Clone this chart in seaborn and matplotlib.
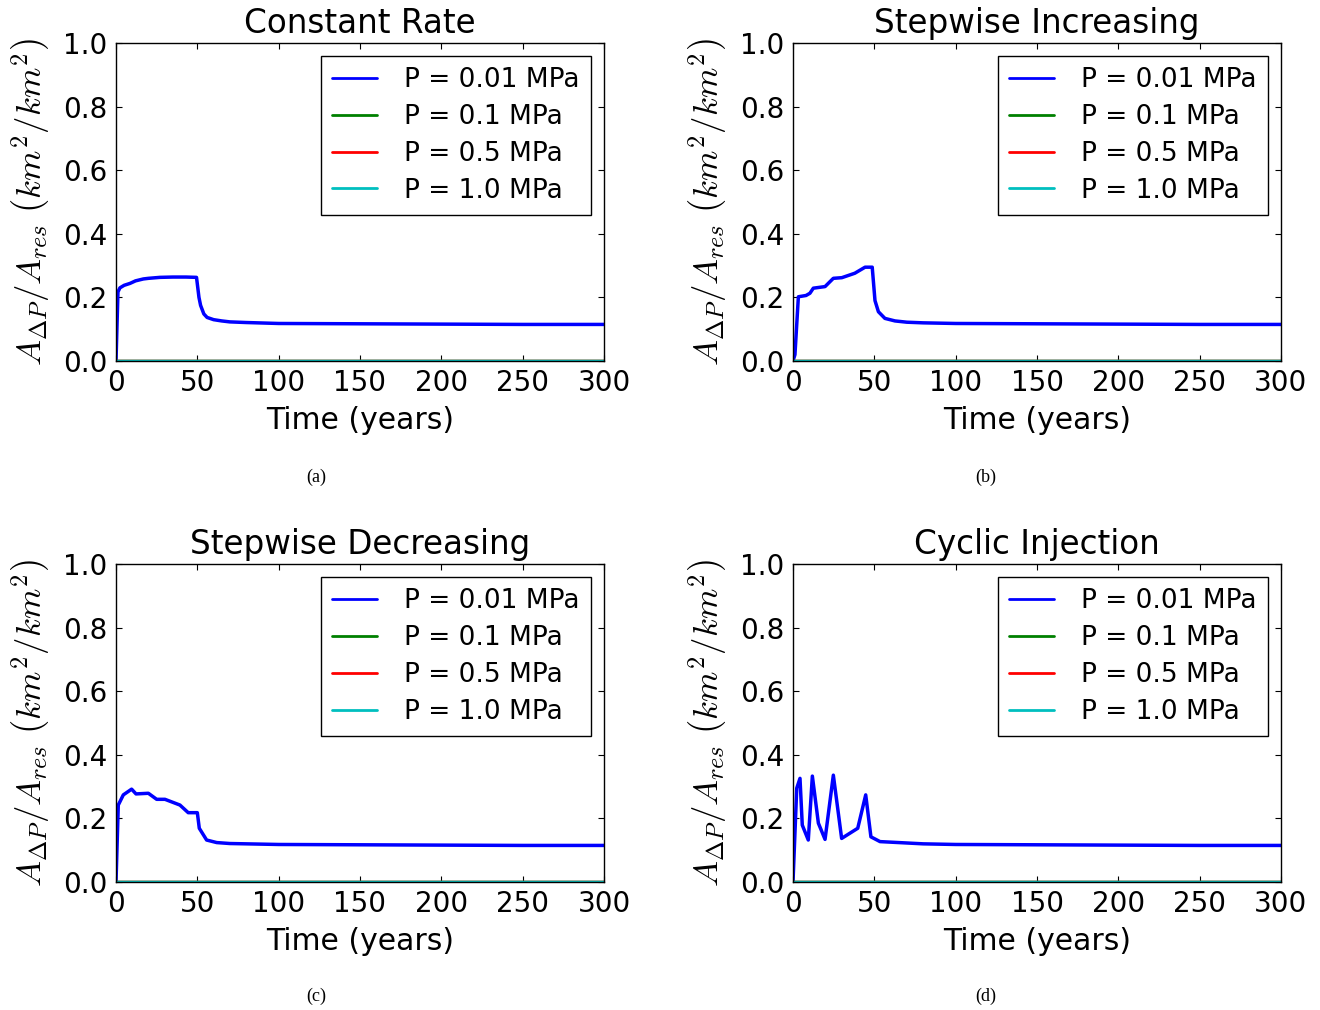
import numpy as np
import pandas as pd
import matplotlib
matplotlib.use("Agg")
import matplotlib.pyplot as plt
import seaborn as sns

# ---------------- data ----------------
pressures = ["P = 0.01 MPa", "P = 0.1 MPa", "P = 0.5 MPa", "P = 1.0 MPa"]
colors = ["#0000ff", "#008000", "#ff0000", "#00bfbf"]
titles = ["Constant Rate", "Stepwise Increasing", "Stepwise Decreasing", "Cyclic Injection"]
captions = ["(a)", "(b)", "(c)", "(d)"]
x_ticks = [0, 50, 100, 150, 200, 250, 300]
y_ticks = [0.0, 0.2, 0.4, 0.6, 0.8, 1.0]

t_a = [0, 1.2, 2.4, 5, 8.6, 12, 16.8, 20, 27, 35, 43, 49.5, 51, 52, 54, 56, 60, 65, 70, 80, 100, 150, 200, 250, 300]
v_a = [0, 0.217, 0.23, 0.238, 0.244, 0.252, 0.258, 0.26, 0.263, 0.264, 0.264, 0.263, 0.2, 0.175, 0.148, 0.137, 0.13, 0.126, 0.123, 0.121, 0.118, 0.117, 0.116, 0.115, 0.115]

t_b = [0, 1.2, 3.3, 8, 10.4, 12.5, 19.7, 24.8, 30, 38, 44.3, 48.7, 50.4, 52.5, 56.5, 62.7, 70, 80, 100, 150, 200, 250, 300]
v_b = [0, 0.02, 0.202, 0.206, 0.213, 0.229, 0.234, 0.26, 0.262, 0.276, 0.295, 0.295, 0.19, 0.155, 0.134, 0.126, 0.122, 0.12, 0.118, 0.117, 0.116, 0.115, 0.115]

t_c = [0, 1.4, 4.5, 9.6, 12.3, 19.9, 25, 30.1, 39.3, 44.4, 50, 51.2, 55.7, 61.9, 70, 80, 100, 150, 200, 250, 300]
v_c = [0, 0.242, 0.274, 0.292, 0.277, 0.279, 0.26, 0.26, 0.242, 0.218, 0.218, 0.169, 0.132, 0.124, 0.121, 0.12, 0.118, 0.117, 0.116, 0.115, 0.115]

t_d = [0, 2.3, 4.3, 5.7, 9.4, 11.9, 15.6, 19.7, 24.8, 29.9, 39.8, 44.7, 47.9, 53.5, 65, 80, 100, 150, 200, 250, 300]
v_d = [0, 0.295, 0.326, 0.179, 0.132, 0.333, 0.185, 0.134, 0.336, 0.137, 0.169, 0.274, 0.142, 0.127, 0.124, 0.12, 0.118, 0.117, 0.116, 0.115, 0.115]

panels = [(t_a, v_a), (t_b, v_b), (t_c, v_c), (t_d, v_d)]

# ---------------- style ----------------
sns.set_style("ticks")
plt.rcParams["font.family"] = ["DejaVu Sans"]
plt.rcParams["mathtext.fontset"] = "cm"
plt.rcParams["xtick.direction"] = "in"
plt.rcParams["ytick.direction"] = "in"
plt.rcParams["xtick.top"] = True
plt.rcParams["ytick.right"] = True
plt.rcParams["xtick.major.size"] = 4
plt.rcParams["ytick.major.size"] = 4
plt.rcParams["xtick.color"] = "black"
plt.rcParams["ytick.color"] = "black"
plt.rcParams["text.color"] = "black"
plt.rcParams["axes.labelcolor"] = "black"
plt.rcParams["axes.edgecolor"] = "black"
plt.rcParams["axes.linewidth"] = 1.0

fig = plt.figure(figsize=(13.2, 10.1), dpi=100)
fs = 20

positions = [
    (116 / 1320, 1 - 361 / 1010),
    (793 / 1320, 1 - 361 / 1010),
    (116 / 1320, 1 - 882 / 1010),
    (793 / 1320, 1 - 882 / 1010),
]
cap_pos = [(316, 477), (986, 477), (316, 996), (986, 996)]
w = 488 / 1320
h = 318 / 1010

for i, ((t, v), (l, b)) in enumerate(zip(panels, positions)):
    ax = fig.add_axes([l, b, w, h])
    frames = []
    for j, p in enumerate(pressures):
        vals = v if j == 0 else [0.0] * len(t)
        frames.append(pd.DataFrame({"Time": t, "Area": vals, "Pressure": p}))
    df = pd.concat(frames, ignore_index=True)
    sns.lineplot(data=df, x="Time", y="Area", hue="Pressure", hue_order=pressures,
                 palette=colors, linewidth=2.5, ax=ax, estimator=None, sort=False)
    ax.set_xlim(0, 300)
    ax.set_ylim(0, 1.0)
    ax.set_xticks(x_ticks)
    ax.set_yticks(y_ticks)
    ax.set_xticklabels([str(x) for x in x_ticks], fontsize=fs)
    ax.set_yticklabels([f"{y:.1f}" for y in y_ticks], fontsize=fs)
    ax.tick_params(axis="both", pad=6)
    ax.set_xlabel("Time (years)", fontsize=21.5, labelpad=6)
    ax.set_ylabel(r"$A_{\Delta P}/A_{res}\ \left(km^2/km^2\right)$", fontsize=25, labelpad=8)
    ax.set_title(titles[i], fontsize=23.5, pad=7)
    sns.move_legend(ax, "upper right", title=None, frameon=True, fontsize=19,
                    fancybox=False, edgecolor="black", framealpha=1,
                    handlelength=1.7, handletextpad=1.05, borderpad=0.42,
                    labelspacing=0.41, borderaxespad=0.5)
    leg = ax.get_legend()
    leg.get_frame().set_linewidth(1.0)
    for line in leg.get_lines():
        line.set_linewidth(2.0)
    cx, cy = cap_pos[i]
    fig.text(cx / 1320, 1 - cy / 1010, captions[i], ha="center", va="center",
             fontsize=13, family=["Liberation Serif"])

fig.savefig("out.png", dpi=100)
